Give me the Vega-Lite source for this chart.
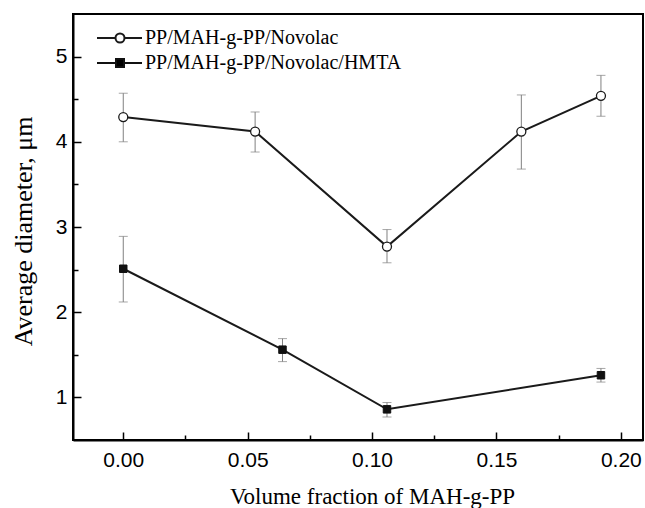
{
  "$schema": "https://vega.github.io/schema/vega-lite/v6.json",
  "width": 570,
  "height": 426,
  "autosize": {"type": "none"},
  "padding": {"left": 73, "top": 14, "right": 2, "bottom": 68},
  "background": "white",
  "config": {
    "view": {"stroke": "black", "strokeWidth": 2},
    "axis": {
      "domainColor": "black",
      "domainWidth": 2,
      "tickColor": "black",
      "tickWidth": 1.5,
      "grid": false,
      "labelFont": "Liberation Sans",
      "labelFontSize": 21,
      "labelColor": "black",
      "titleFont": "Liberation Serif",
      "titleFontWeight": "normal",
      "titleColor": "black"
    }
  },
  "data": {
    "values": [
      {"series": "PP/MAH-g-PP/Novolac", "x": 0.000, "y": 4.29, "lo": 4.00, "hi": 4.57},
      {"series": "PP/MAH-g-PP/Novolac", "x": 0.053, "y": 4.12, "lo": 3.88, "hi": 4.35},
      {"series": "PP/MAH-g-PP/Novolac", "x": 0.106, "y": 2.77, "lo": 2.58, "hi": 2.97},
      {"series": "PP/MAH-g-PP/Novolac", "x": 0.160, "y": 4.12, "lo": 3.68, "hi": 4.55},
      {"series": "PP/MAH-g-PP/Novolac", "x": 0.192, "y": 4.54, "lo": 4.30, "hi": 4.78},
      {"series": "PP/MAH-g-PP/Novolac/HMTA", "x": 0.000, "y": 2.51, "lo": 2.12, "hi": 2.89},
      {"series": "PP/MAH-g-PP/Novolac/HMTA", "x": 0.064, "y": 1.56, "lo": 1.42, "hi": 1.69},
      {"series": "PP/MAH-g-PP/Novolac/HMTA", "x": 0.106, "y": 0.86, "lo": 0.77, "hi": 0.94},
      {"series": "PP/MAH-g-PP/Novolac/HMTA", "x": 0.192, "y": 1.26, "lo": 1.18, "hi": 1.34}
    ]
  },
  "encoding": {
    "x": {
      "field": "x",
      "type": "quantitative",
      "scale": {"domain": [-0.0202, 0.2089], "nice": false, "zero": false},
      "axis": {
        "orient": "bottom",
        "title": "Volume fraction of MAH-g-PP",
        "titleFontSize": 23,
        "titleX": 299,
        "titleY": 63,
        "titleAlign": "center",
        "titleBaseline": "alphabetic",
        "values": [0, 0.025, 0.05, 0.075, 0.1, 0.125, 0.15, 0.175, 0.2],
        "labelExpr": "abs(datum.value*20 - round(datum.value*20)) < 0.001 ? format(datum.value, '.2f') : ''",
        "tickSize": {"condition": {"test": "abs(datum.value*20 - round(datum.value*20)) < 0.001", "value": -8}, "value": -5},
        "labelPadding": 17
      }
    },
    "y": {
      "field": "y",
      "type": "quantitative",
      "scale": {"domain": [0.5, 5.5], "nice": false, "zero": false},
      "axis": {
        "orient": "left",
        "title": "Average diameter, μm",
        "titleFontSize": 26,
        "titleX": -42,
        "titleY": 217,
        "titleAlign": "center",
        "titleAngle": -90,
        "titleBaseline": "alphabetic",
        "values": [1, 1.5, 2, 2.5, 3, 3.5, 4, 4.5, 5],
        "labelExpr": "datum.value % 1 == 0 ? format(datum.value, 'd') : ''",
        "tickSize": {"condition": {"test": "datum.value % 1 == 0", "value": -8}, "value": -5},
        "labelPadding": 14
      }
    }
  },
  "layer": [
    {
      "mark": {"type": "rule", "color": "#808080", "strokeWidth": 1},
      "encoding": {"y": {"field": "lo", "type": "quantitative"}, "y2": {"field": "hi"}}
    },
    {
      "mark": {"type": "tick", "orient": "horizontal", "color": "#808080", "thickness": 1, "size": 9},
      "encoding": {"y": {"field": "lo", "type": "quantitative"}}
    },
    {
      "mark": {"type": "tick", "orient": "horizontal", "color": "#808080", "thickness": 1, "size": 9},
      "encoding": {"y": {"field": "hi", "type": "quantitative"}}
    },
    {
      "mark": {"type": "line", "color": "#1a1a1a", "strokeWidth": 2},
      "encoding": {"detail": {"field": "series"}, "order": {"field": "x", "type": "quantitative"}}
    },
    {
      "transform": [{"filter": "datum.series == 'PP/MAH-g-PP/Novolac'"}],
      "mark": {"type": "point", "shape": "circle", "filled": true, "fill": "white", "stroke": "#1a1a1a", "strokeWidth": 1.3, "opacity": 1, "size": 81},
      "encoding": {}
    },
    {
      "transform": [{"filter": "datum.series == 'PP/MAH-g-PP/Novolac/HMTA'"}],
      "mark": {"type": "point", "shape": "square", "filled": true, "fill": "#111111", "stroke": "#111111", "strokeWidth": 1, "opacity": 1, "size": 56},
      "encoding": {}
    },
    {
      "transform": [{"filter": "datum.x < -1"}],
      "mark": {"type": "point", "filled": true, "strokeWidth": 2, "opacity": 1},
      "encoding": {
        "shape": {
          "field": "series",
          "type": "nominal",
          "scale": {
            "domain": ["PP/MAH-g-PP/Novolac", "PP/MAH-g-PP/Novolac/HMTA"],
            "range": [
              "M-4.6,0H-0.9M0.9,0H4.4M0.9,0A0.9,0.9,0,1,1,-0.9,0A0.9,0.9,0,1,1,0.9,0Z",
              "M-4.6,0H-0.8M0.8,0H4.4M-0.8,-0.8H0.8V0.8H-0.8Z"
            ]
          },
          "legend": {
            "title": null,
            "orient": "none",
            "legendX": 37,
            "legendY": 14,
            "padding": 0,
            "symbolSize": 100,
            "symbolStrokeWidth": 2,
            "symbolOpacity": 1,
            "rowPadding": 5,
            "labelOffset": 15,
            "labelFont": "Liberation Serif",
            "labelFontSize": 20,
            "labelColor": "black",
            "labelLimit": 400
          }
        },
        "fill": {
          "field": "series",
          "type": "nominal",
          "scale": {"domain": ["PP/MAH-g-PP/Novolac", "PP/MAH-g-PP/Novolac/HMTA"], "range": ["white", "black"]}
        },
        "stroke": {
          "field": "series",
          "type": "nominal",
          "scale": {"domain": ["PP/MAH-g-PP/Novolac", "PP/MAH-g-PP/Novolac/HMTA"], "range": ["#1a1a1a", "#111111"]}
        }
      }
    }
  ]
}
